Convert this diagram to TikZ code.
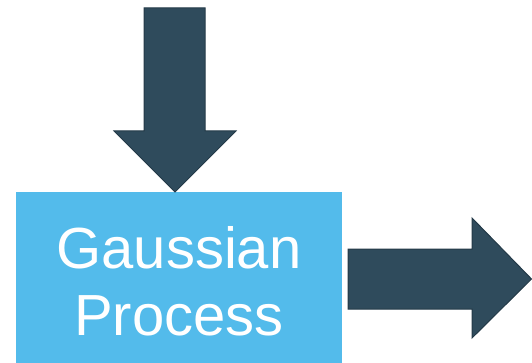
\documentclass[tikz,border=0pt]{standalone}
\usepackage{fontspec}
\setmainfont{Liberation Sans}
\definecolor{gpblue}{RGB}{83,187,235}
\definecolor{arrowfill}{RGB}{47,75,92}
\definecolor{arrowedge}{RGB}{36,58,72}
\tikzset{
  gpbox/.style={fill=gpblue, draw=none, inner sep=0pt, text=white, align=center,
    font=\fontsize{58}{67}\selectfont},
  fatarrow/.style={fill=arrowfill, draw=arrowedge, line width=1pt, line join=miter}
}
\begin{document}
\begin{tikzpicture}[x=1pt,y=-1pt]
\useasboundingbox (0,0) rectangle (532,363);
\node[gpbox, minimum width=326pt, minimum height=171pt, anchor=north west] (gp) at (16,192) {};
\node[gpbox, fill=none, anchor=center] (gptext) at (179,281) {Gaussian\\Process};
\draw[fatarrow] (144,8) -- (205,8) -- (205,131) -- (236,131) -- (175,192) -- (114,131) -- (144,131) -- cycle;
\draw[fatarrow] (348,249) -- (472,249) -- (472,218) -- (531.5,279) -- (472,338) -- (472,309) -- (348,309) -- cycle;
\end{tikzpicture}
\end{document}
